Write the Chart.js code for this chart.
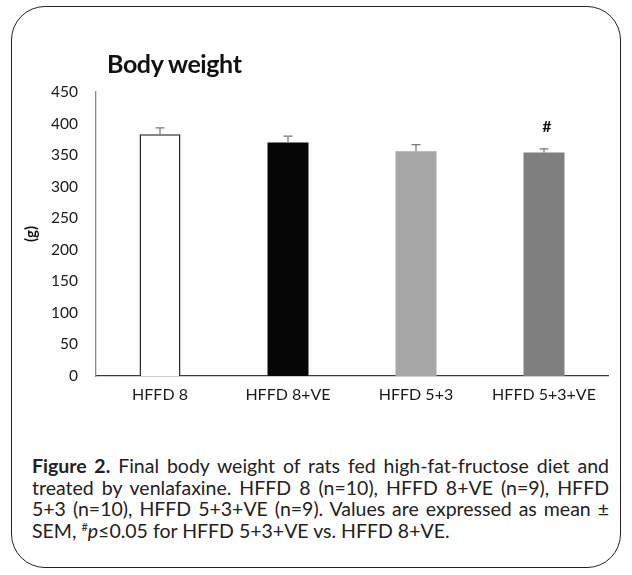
<!DOCTYPE html>
<html>
<head>
<meta charset="utf-8">
<script src="https://cdn.jsdelivr.net/npm/chart.js@4"></script>
<style>
  html, body { margin: 0; padding: 0; background: #fff; }
  #wrap { position: relative; width: 632px; height: 575px; overflow: hidden; font-family: Lato, sans-serif; }
  #frame { position: absolute; left: 11px; top: 6px; width: 610px; height: 562px; border: 1.3px solid #222; border-radius: 34px; box-sizing: border-box; }
  #plot { position: absolute; left: 0; top: 0; width: 632px; height: 420px; }
  #title { position: absolute; left: 107px; top: 48px; font-size: 25px; font-weight: 700; color: #111; letter-spacing: -0.4px; line-height: 30px; }
  #caption { position: absolute; left: 32px; top: 455px; width: 577px; font-size: 19.5px; line-height: 21.5px; color: #222; }
  #caption div { text-align: justify; text-align-last: justify; white-space: nowrap; }
  #caption div:last-child { text-align-last: left; }
  #caption b { font-weight: 700; }
  #caption sup { font-size: 11px; vertical-align: 7px; line-height: 0; }
</style>
</head>
<body>
<div id="wrap">
  <div id="frame"></div>
  <div id="plot"><canvas id="c" width="632" height="420"></canvas></div>
  <div id="title">Body weight</div>
  <div id="caption">
    <div><b>Figure 2.</b> Final body weight of rats fed high-fat-fructose diet and</div>
    <div>treated by venlafaxine. HFFD 8 (n=10), HFFD 8+VE (n=9), HFFD</div>
    <div>5+3 (n=10), HFFD 5+3+VE (n=9). Values are expressed as mean ±</div>
    <div>SEM, <sup>#</sup><i>p</i>≤0.05 for HFFD 5+3+VE vs. HFFD 8+VE.</div>
  </div>
</div>
<script>
// Groups and measured body weights (g)
const groups = ["HFFD 8", "HFFD 8+VE", "HFFD 5+3", "HFFD 5+3+VE"];
const meanWeight = [383, 370, 356, 354];
const semWeight = [10, 10, 10.5, 6];
const significance = ["", "", "", "#"];
const yTicks = [0, 50, 100, 150, 200, 250, 300, 350, 400, 450];

const fills = ["#ffffff", "#050505", "#a6a6a6", "#7f7f7f"];
const borders = ["#2a2a2a", "#050505", "#a6a6a6", "#7f7f7f"];
const borderWidths = [1.5, 0, 0, 0];

// Upward SEM whiskers plus significance markers above each bar
const errorBars = {
  id: "errorBars",
  afterDatasetsDraw(chart) {
    const { ctx } = chart;
    const y = chart.scales.y;
    const meta = chart.getDatasetMeta(0);
    ctx.save();
    meta.data.forEach((bar, i) => {
      const x = bar.x;
      const top = y.getPixelForValue(meanWeight[i]);
      const tip = y.getPixelForValue(meanWeight[i] + semWeight[i]);
      ctx.strokeStyle = "#7a7a7a";
      ctx.lineWidth = 1.3;
      ctx.beginPath();
      ctx.moveTo(x, top);
      ctx.lineTo(x, tip);
      ctx.moveTo(x - 4.5, tip);
      ctx.lineTo(x + 4.5, tip);
      ctx.stroke();
      if (significance[i]) {
        ctx.fillStyle = "#111";
        ctx.font = "700 16px Lato";
        ctx.textAlign = "center";
        ctx.textBaseline = "middle";
        ctx.fillText(significance[i], x + 3, tip - 22);
      }
    });
    ctx.restore();
  }
};

new Chart(document.getElementById("c"), {
  type: "bar",
  data: {
    labels: groups,
    datasets: [{
      data: meanWeight,
      backgroundColor: fills,
      borderColor: borders,
      borderWidth: borderWidths,
      barPercentage: 0.32,
      categoryPercentage: 1.0
    }]
  },
  options: {
    responsive: false,
    animation: false,
    devicePixelRatio: 1,
    layout: { padding: { left: 22, right: 24, top: 92, bottom: 0 } },
    plugins: { legend: { display: false }, tooltip: { enabled: false } },
    scales: {
      x: {
        grid: { display: false, drawTicks: false },
        border: { color: "#3a3a3a", width: 1.3 },
        ticks: { color: "#1a1a1a", font: { family: "Lato", size: 16 }, padding: 9 },
        afterFit(scale) { scale.height = 44; }
      },
      y: {
        min: 0,
        max: 450,
        afterBuildTicks(scale) { scale.ticks = yTicks.map(v => ({ value: v })); },
        grid: { display: false, drawTicks: false },
        border: { color: "#8a8a8a", width: 1.3 },
        ticks: { color: "#1a1a1a", font: { family: "Lato", size: 15.5 }, padding: 18 },
        title: { display: true, text: "(g)", color: "#111", font: { family: "Lato", size: 15, weight: "700" }, padding: 0 },
        afterFit(scale) { scale.width = 74; }
      }
    }
  },
  plugins: [errorBars]
});
</script>
</body>
</html>
